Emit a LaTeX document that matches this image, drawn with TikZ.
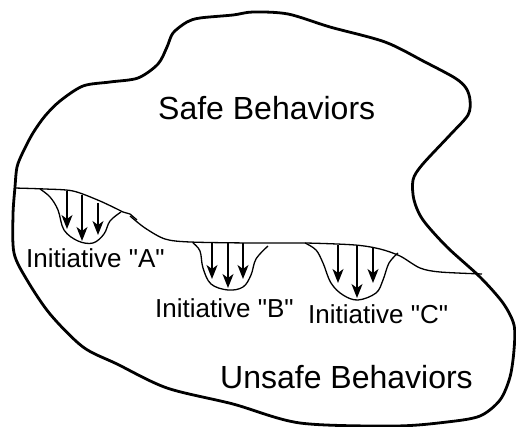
\documentclass[tikz,border=0pt]{standalone}
\usepackage{fontspec}
\setmainfont{Liberation Sans}[Ligatures=TeXOff]
\usetikzlibrary{arrows.meta}
\begin{document}
\begin{tikzpicture}[x=1pt,y=-1pt,
  outline/.style={line width=2.8pt,line join=round},
  thin/.style={line width=1.3pt,line join=round},
  push/.style={line width=1.3pt,-{Stealth[length=14pt,width=11pt,inset=4pt]}},
  big/.style={font=\fontsize{32}{36}\selectfont,inner sep=0pt,anchor=base west},
  small/.style={font=\fontsize{26}{30}\selectfont,inner sep=0pt,anchor=base west}]
\useasboundingbox (0,0) rectangle (516,427);
% outer boundary
\draw[outline] plot[smooth cycle,tension=0.5] coordinates {
 (253,12) (288,14) (330,27) (385,42) (425,62) (455,78) (466,88) (470,100)
 (468,115) (450,135) (422,165) (413,180) (414,200) (423,220) (447,247)
 (480,277) (503,303) (514,325) (514,350) (510,377) (500,400) (480,416)
 (447,422) (395,426) (300,423) (233,404) (167,388) (117,364) (83,347)
 (50,314) (27,280) (14,253) (13,215) (15,187) (17,167) (23,152) (33,133)
 (45,116) (60,101) (83,86) (110,82) (138,78) (158,64) (167,47) (173,33)
 (187,22) (200,18) (233,15)};
% horizon between safe and unsafe
\draw[thin] plot[smooth,tension=0.5] coordinates {
 (14,188) (45,189) (73,191) (100,201) (123,212)};
\draw[thin] (123,212) -- (130,214) -- (137,220);
\draw[thin] plot[smooth,tension=0.5] coordinates {
 (130,216) (145,228) (165,239) (190,242) (250,243) (305,243) (355,245)
 (380,249) (400,256) (420,268) (440,272) (482,274)};
% dip A
\draw[thin] plot[smooth,tension=0.6] coordinates {
 (40,189) (50,197) (58,210) (64,230) (78,241) (93,243) (104,234) (110,221) (121,212)};
% dip B
\draw[thin] plot[smooth,tension=0.6] coordinates {
 (193,243) (200,251) (203,268) (211,284) (228,290) (243,287) (251,275) (256,259) (268,246)};
% dip C
\draw[thin] plot[smooth,tension=0.6] coordinates {
 (305,243) (316,250) (323,263) (331,283) (343,295) (358,300) (376,293) (383,280) (389,263) (398,253)};
% arrows
\coordinate (a1s) at (67,191); \coordinate (a1e) at (67,229);
\coordinate (a2s) at (82,195); \coordinate (a2e) at (82,241);
\coordinate (a3s) at (98,203); \coordinate (a3e) at (98,235);
\coordinate (b1s) at (212,243); \coordinate (b1e) at (212,279);
\coordinate (b2s) at (228,243); \coordinate (b2e) at (228,288);
\coordinate (b3s) at (243,243); \coordinate (b3e) at (243,279);
\coordinate (c1s) at (338,245); \coordinate (c1e) at (338,283);
\coordinate (c2s) at (357,246); \coordinate (c2e) at (357,298);
\coordinate (c3s) at (373,247); \coordinate (c3e) at (373,283);
\foreach \p in {a1,a2,a3,b1,b2,b3,c1,c2,c3}
  \draw[push] (\p s) -- (\p e);
% labels
\node[big] (safe) at (158,120) {Safe Behaviors};
\node[big] (unsafe) at (220,388) {Unsafe Behaviors};
\node[small] (ia) at (26,268) {Initiative "A"};
\node[small] (ib) at (155,317) {Initiative "B"};
\node[small] (ic) at (308,323) {Initiative "C"};
\end{tikzpicture}
\end{document}
